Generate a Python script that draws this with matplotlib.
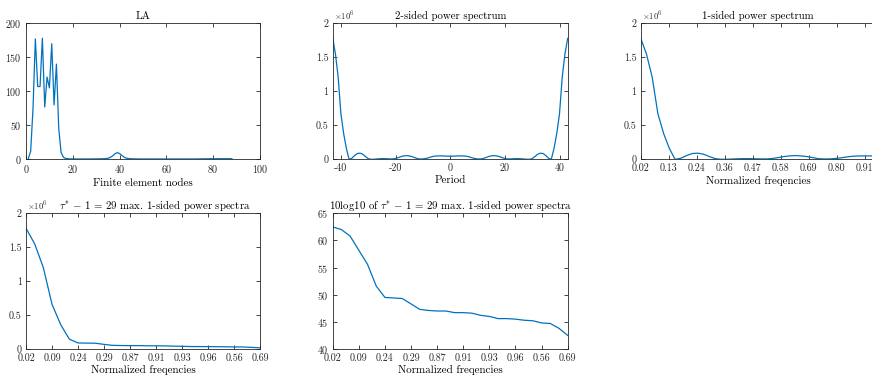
import matplotlib
matplotlib.use("Agg")
import matplotlib.pyplot as plt
import numpy as np

plt.rcParams['font.family'] = ['cmr10', 'DejaVu Serif']
plt.rcParams['mathtext.fontset'] = 'cm'
plt.rcParams['axes.unicode_minus'] = False
plt.rcParams['axes.formatter.use_mathtext'] = True

# ---------------- data ----------------
# Panel 1: LA along finite element nodes 1..88
la_values = [1, 12, 75, 177, 107, 107, 178, 77, 121, 105,
             170, 80, 140, 45, 10, 3, 1.2, 0.8, 0.6, 0.6,
             0.5, 0.5, 0.5, 0.5, 0.5, 0.5, 0.5, 0.6, 0.6, 0.7,
             0.7, 0.8, 0.9, 1.0, 1.5, 2.8, 5.0, 8.0, 9.8, 8.5,
             5.5, 3.0, 1.6, 1.0, 0.8, 0.7, 0.6, 0.6, 0.5, 0.5,
             0.5, 0.5, 0.5, 0.5, 0.5, 0.5, 0.5, 0.5, 0.5, 0.5,
             0.5, 0.5, 0.5, 0.5, 0.5, 0.5, 0.5, 0.5, 0.5, 0.5,
             0.5, 0.5, 0.6, 0.6, 0.7, 0.7, 0.8, 0.8, 0.9, 0.9,
             0.9, 0.9, 0.9, 0.9, 0.9, 0.9, 0.9, 0.9]
la_nodes = list(range(1, len(la_values) + 1))

# Power spectrum (x10^6) at |period| = 0..43 (symmetric 2-sided spectrum)
period_abs = list(range(0, 44))
power_half = [0.045, 0.046, 0.048, 0.050, 0.050, 0.049, 0.045, 0.035, 0.022, 0.012,
              0.006, 0.005, 0.010, 0.025, 0.040, 0.050, 0.055, 0.050, 0.040, 0.025,
              0.012, 0.006, 0.006, 0.008, 0.010, 0.010, 0.008, 0.004, 0.001, 0.000,
              0.010, 0.040, 0.075, 0.090, 0.085, 0.055, 0.015, 0.000, 0.160, 0.380,
              0.670, 1.210, 1.550, 1.780]

# 1-sided spectrum: normalized frequencies (k+1)/44, k = 0..43
onesided_freq = [(k + 1) / 44 for k in range(44)]
onesided_ticks = [0.02, 0.13, 0.24, 0.36, 0.47, 0.58, 0.69, 0.80, 0.91]

# Sorted 29 max. 1-sided power spectra
max_tick_labels = ['0.02', '0.09', '0.24', '0.29', '0.87', '0.91', '0.93', '0.96', '0.56', '0.69']
max_power = [1.78, 1.55, 1.20, 0.66, 0.36, 0.145, 0.089, 0.087, 0.085, 0.068,
             0.054, 0.051, 0.050, 0.050, 0.047, 0.047, 0.046, 0.042, 0.040, 0.036,
             0.036, 0.035, 0.034, 0.033, 0.030, 0.030, 0.024, 0.018]
max_db = [62.5, 62.0, 60.8, 58.2, 55.6, 51.6, 49.5, 49.4, 49.3, 48.3,
          47.3, 47.1, 47.0, 47.0, 46.7, 46.7, 46.6, 46.2, 46.0, 45.6,
          45.6, 45.5, 45.3, 45.2, 44.8, 44.7, 43.8, 42.5]

# ---------------- figure ----------------
W, H = 872, 375
fig = plt.figure(figsize=(W / 100, H / 100), dpi=100)

LINE = '#0072BD'
AXC = '#262626'
TICK_FS = 7.2
LAB_FS = 7.9
TIT_FS = 7.8


def make_ax(x0, y0_top, x1, y1_bot):
    ax = fig.add_axes([x0 / W, 1 - y1_bot / H, (x1 - x0) / W, (y1_bot - y0_top) / H])
    for s in ax.spines.values():
        s.set_color(AXC)
        s.set_linewidth(0.6)
    ax.tick_params(direction='in', length=3, width=0.6, colors=AXC,
                   labelsize=TICK_FS, top=True, right=True, pad=3)
    return ax


def sci_label(ax):
    ax.text(0.005, 1.0, r'$\times10^6$', transform=ax.transAxes, fontsize=6.3,
            color=AXC, ha='left', va='bottom')


top_t, top_b = 23.3, 159.3
bot_t, bot_b = 213.3, 349.0

# Panel 1
ax1 = make_ax(26, top_t, 260, top_b)
ax1.plot(la_nodes, la_values, color=LINE, lw=0.9)
ax1.set_xlim(0, 100)
ax1.set_ylim(0, 200)
ax1.set_xticks([0, 20, 40, 60, 80, 100])
ax1.set_yticks([0, 50, 100, 150, 200])
ax1.set_title('LA', fontsize=TIT_FS, pad=3)
ax1.set_xlabel('Finite element nodes', fontsize=LAB_FS, labelpad=2)

# Panel 2
ax2 = make_ax(332.7, top_t, 567.7, top_b)
periods = [-p for p in period_abs[::-1]] + period_abs[1:]
power_two = power_half[::-1] + power_half[1:]
ax2.plot(periods, power_two, color=LINE, lw=0.9)
ax2.set_xlim(-43, 43)
ax2.set_ylim(0, 2)
ax2.set_xticks([-40, -20, 0, 20, 40])
ax2.set_xticklabels(['-40', '-20', '0', '20', '40'])
ax2.set_yticks([0, 0.5, 1, 1.5, 2])
ax2.set_yticklabels(['0', '0.5', '1', '1.5', '2'])
ax2.set_title('2-sided power spectrum', fontsize=TIT_FS, pad=3)
ax2.set_xlabel('Period', fontsize=LAB_FS, labelpad=2)
sci_label(ax2)

# Panel 3 (extends past the right figure edge, as in the reference)
ax3 = make_ax(640.7, top_t, 887, top_b)
ax3.plot(onesided_freq, power_half[::-1], color=LINE, lw=0.9)
ax3.set_xlim(onesided_freq[0], onesided_freq[-1])
ax3.set_ylim(0, 2)
tick_pos = [onesided_freq[0] + i / 9 for i in range(len(onesided_ticks))]
ax3.set_xticks(tick_pos)
ax3.set_xticklabels(['%.2f' % t for t in onesided_ticks])
ax3.set_yticks([0, 0.5, 1, 1.5, 2])
ax3.set_yticklabels(['0', '0.5', '1', '1.5', '2'])
ax3.set_title('1-sided power spectrum', fontsize=TIT_FS, pad=3)
ax3.set_xlabel('Normalized freqencies', fontsize=LAB_FS, labelpad=2)
sci_label(ax3)
ax3.title.set_x((758 - 640.7) / (887 - 640.7))
ax3.xaxis.label.set_x((758 - 640.7) / (887 - 640.7))

# Panel 4
idx = list(range(len(max_power)))
ax4 = make_ax(26, bot_t, 260, bot_b)
ax4.plot(idx, max_power, color=LINE, lw=0.9)
ax4.set_xlim(0, len(max_power) - 1)
ax4.set_ylim(0, 2)
ax4.set_xticks(idx[::3])
ax4.set_xticklabels(max_tick_labels)
ax4.set_yticks([0, 0.5, 1, 1.5, 2])
ax4.set_yticklabels(['0', '0.5', '1', '1.5', '2'])
ax4.set_title(r'$\tau^{*}\,-\,1\,=\,29$ max. 1-sided power spectra', fontsize=TIT_FS, pad=3)
ax4.title.set_x(0.55)
ax4.set_xlabel('Normalized freqencies', fontsize=LAB_FS, labelpad=2)
ax4.xaxis.label.set_x(0.5)
sci_label(ax4)

# Panel 5
ax5 = make_ax(332.7, bot_t, 567.7, bot_b)
ax5.plot(idx, max_db, color=LINE, lw=0.9)
ax5.set_xlim(0, len(max_db) - 1)
ax5.set_ylim(40, 65)
ax5.set_xticks(idx[::3])
ax5.set_xticklabels(max_tick_labels)
ax5.set_yticks([40, 45, 50, 55, 60, 65])
ax5.set_title(r'10log10 of $\tau^{*}\,-\,1\,=\,29$ max. 1-sided power spectra',
              fontsize=TIT_FS, pad=3)
ax5.set_xlabel('Normalized freqencies', fontsize=LAB_FS, labelpad=2)

fig.savefig('out.png', dpi=100)
